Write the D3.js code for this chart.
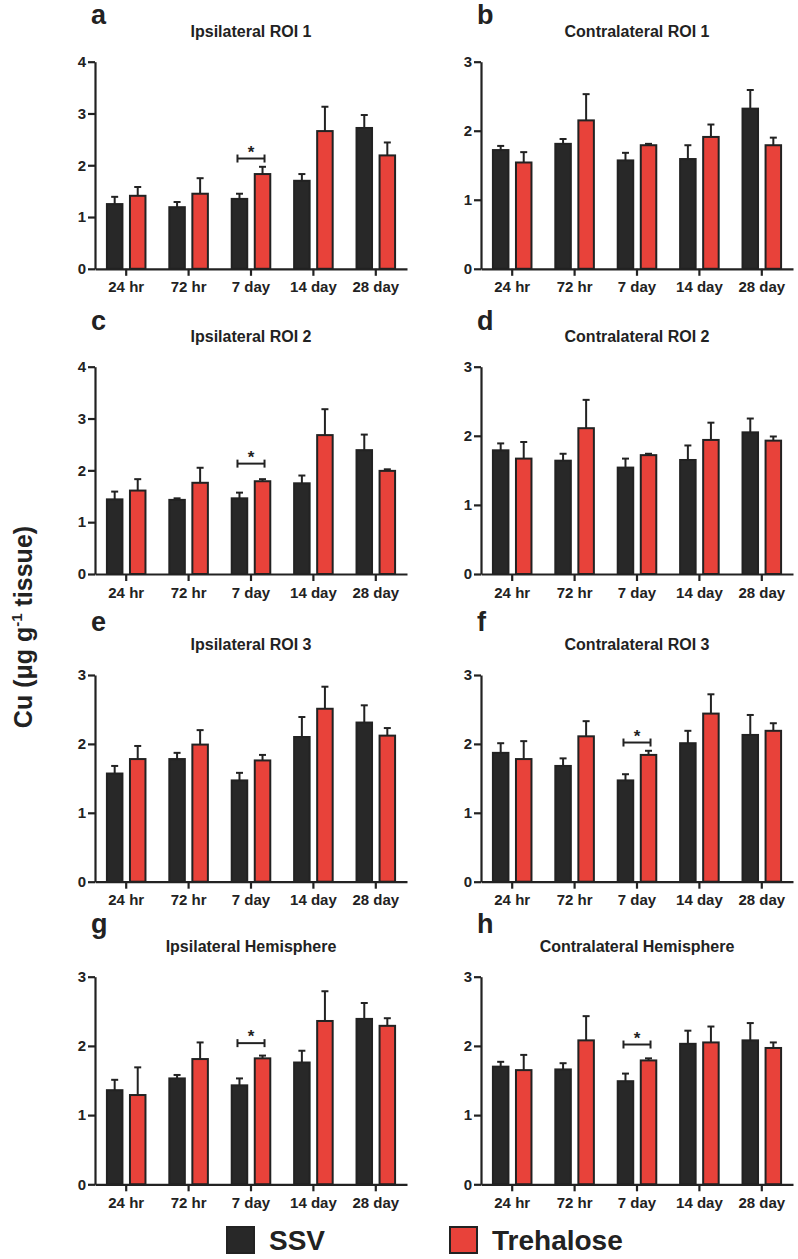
<!DOCTYPE html>
<html>
<head>
<meta charset="utf-8">
<script src="https://cdn.jsdelivr.net/npm/d3@7"></script>
<style>
  html, body { margin: 0; padding: 0; background: #fff; }
  svg { display: block; font-family: "Liberation Sans", Arial, sans-serif; }
</style>
</head>
<body>
<svg id="chart" width="798" height="1259"></svg>
<script>
// ---------------- DATA ----------------
const categories = ["24 hr", "72 hr", "7 day", "14 day", "28 day"];
const seriesNames = ["SSV", "Trehalose"];
const panelLetters = ["a", "b", "c", "d", "e", "f", "g", "h"];
const panelTitles = [
  "Ipsilateral ROI 1", "Contralateral ROI 1",
  "Ipsilateral ROI 2", "Contralateral ROI 2",
  "Ipsilateral ROI 3", "Contralateral ROI 3",
  "Ipsilateral Hemisphere", "Contralateral Hemisphere"
];
const yMaxes = [4, 3, 4, 3, 3, 3, 3, 3];

// mean values (SSV)
const ssvMean = [
  [1.25, 1.19, 1.35, 1.70, 2.72],
  [1.72, 1.81, 1.57, 1.59, 2.32],
  [1.44, 1.43, 1.46, 1.75, 2.39],
  [1.79, 1.64, 1.54, 1.65, 2.05],
  [1.57, 1.78, 1.47, 2.10, 2.31],
  [1.87, 1.68, 1.47, 2.01, 2.13],
  [1.36, 1.53, 1.43, 1.76, 2.39],
  [1.70, 1.66, 1.49, 2.03, 2.08]
];
// top of error bar (SSV)
const ssvErrTop = [
  [1.39, 1.29, 1.45, 1.83, 2.97],
  [1.78, 1.88, 1.68, 1.79, 2.59],
  [1.59, 1.46, 1.57, 1.90, 2.69],
  [1.89, 1.74, 1.67, 1.86, 2.25],
  [1.68, 1.87, 1.58, 2.39, 2.56],
  [2.01, 1.79, 1.56, 2.19, 2.42],
  [1.51, 1.58, 1.53, 1.93, 2.62],
  [1.77, 1.75, 1.60, 2.22, 2.33]
];
// mean values (Trehalose)
const treMean = [
  [1.41, 1.45, 1.83, 2.66, 2.19],
  [1.54, 2.15, 1.79, 1.91, 1.79],
  [1.61, 1.76, 1.79, 2.68, 1.99],
  [1.67, 2.11, 1.72, 1.94, 1.93],
  [1.78, 1.99, 1.76, 2.51, 2.12],
  [1.78, 2.11, 1.84, 2.44, 2.19],
  [1.29, 1.81, 1.82, 2.36, 2.29],
  [1.65, 2.08, 1.79, 2.05, 1.97]
];
// top of error bar (Trehalose)
const treErrTop = [
  [1.58, 1.75, 1.97, 3.13, 2.44],
  [1.69, 2.53, 1.81, 2.09, 1.90],
  [1.83, 2.05, 1.83, 3.18, 2.02],
  [1.91, 2.52, 1.74, 2.19, 1.99],
  [1.97, 2.20, 1.84, 2.83, 2.23],
  [2.04, 2.33, 1.90, 2.72, 2.30],
  [1.69, 2.05, 1.86, 2.79, 2.40],
  [1.87, 2.43, 1.82, 2.28, 2.05]
];
// significance brackets: panel index, category, bracket level
const sigPanels = [0, 2, 5, 6, 7];
const sigCategory = ["7 day", "7 day", "7 day", "7 day", "7 day"];
const sigLevel = [2.13, 2.13, 2.02, 2.04, 2.02];

const yLabel = "Cu (\u03BCg g";
const yLabelSup = "-1";
const yLabelEnd = " tissue)";

// ---------------- LAYOUT ----------------
const colX = [95, 481];
const plotW = 312;
const rowTop = [61.7, 366.7, 675, 976.7];
const rowZero = [268.8, 574, 881.7, 1184.3];
const letterDy = [37.5, 36.7, 44, 43.7];

const INK = "#222222";
const colors = { SSV: "#282828", Trehalose: "#e8423a" };
const FONT = "'Liberation Sans', Arial, sans-serif";

const svg = d3.select("#chart");

panelLetters.forEach((letter, i) => {
  const col = i % 2, row = Math.floor(i / 2);
  const x0 = colX[col], x1 = x0 + plotW;
  const yTop = rowTop[row], y0 = rowZero[row];

  const x = d3.scaleBand().domain(categories).range([x0, x1])
    .paddingInner(0.35).paddingOuter(0.175);
  const xs = d3.scaleBand().domain(seriesNames).range([0, x.bandwidth()])
    .paddingInner(0.24);
  const y = d3.scaleLinear().domain([0, yMaxes[i]]).range([y0, yTop]);

  const g = svg.append("g");

  // letter
  g.append("text")
    .attr("x", x0 - 4)
    .attr("y", yTop - letterDy[row])
    .attr("font-size", 27).attr("font-weight", "bold").attr("fill", INK)
    .attr("font-family", FONT)
    .text(letter);

  // title
  g.append("text")
    .attr("x", (x0 + x1) / 2)
    .attr("y", yTop - 25)
    .attr("text-anchor", "middle")
    .attr("font-size", 16).attr("font-weight", "bold").attr("fill", INK)
    .attr("font-family", FONT)
    .text(panelTitles[i]);

  // bars
  const data = [];
  categories.forEach((c, k) => {
    data.push({ c, s: "SSV", v: ssvMean[i][k], e: ssvErrTop[i][k] });
    data.push({ c, s: "Trehalose", v: treMean[i][k], e: treErrTop[i][k] });
  });

  // error bars first (behind)
  const eb = g.append("g").attr("stroke", INK).attr("stroke-width", 2);
  data.forEach(d => {
    const cx = x(d.c) + xs(d.s) + xs.bandwidth() / 2;
    eb.append("line").attr("x1", cx).attr("x2", cx)
      .attr("y1", y(d.v)).attr("y2", y(d.e));
    eb.append("line").attr("x1", cx - 3.5).attr("x2", cx + 3.5)
      .attr("y1", y(d.e)).attr("y2", y(d.e));
  });

  g.append("g").selectAll("rect").data(data).join("rect")
    .attr("x", d => x(d.c) + xs(d.s) + 1)
    .attr("width", xs.bandwidth() - 2)
    .attr("y", d => y(d.v))
    .attr("height", d => y0 - y(d.v))
    .attr("fill", d => colors[d.s])
    .attr("stroke", INK).attr("stroke-width", 2);

  // axes
  const yAxis = d3.axisLeft(y).ticks(yMaxes[i]).tickFormat(d3.format("d"))
    .tickSize(7).tickSizeOuter(0).tickPadding(2);
  const gy = g.append("g").attr("transform", `translate(${x0},0)`).call(yAxis);
  const xAxis = d3.axisBottom(x).tickSize(7).tickSizeOuter(0).tickPadding(6);
  const gx = g.append("g").attr("transform", `translate(0,${y0})`).call(xAxis);

  [gy, gx].forEach(a => {
    a.attr("font-size", null).attr("font-family", null);
    a.select(".domain").attr("stroke", INK).attr("stroke-width", 2.2);
    a.selectAll(".tick line").attr("stroke", INK).attr("stroke-width", 2.2);
    a.selectAll(".tick text").attr("fill", INK)
      .attr("font-size", 15).attr("font-weight", "bold").attr("font-family", FONT);
  });

  // significance
  const si = sigPanels.indexOf(i);
  if (si >= 0) {
    const c = sigCategory[si];
    const xa = x(c) + xs("SSV") + xs.bandwidth() / 2 - 2;
    const xb = x(c) + xs("Trehalose") + xs.bandwidth() / 2 + 2;
    const yb = y(sigLevel[si]);
    const sg = g.append("g").attr("stroke", INK).attr("stroke-width", 2);
    sg.append("line").attr("x1", xa).attr("x2", xb).attr("y1", yb).attr("y2", yb);
    sg.append("line").attr("x1", xa).attr("x2", xa).attr("y1", yb - 4).attr("y2", yb + 4);
    sg.append("line").attr("x1", xb).attr("x2", xb).attr("y1", yb - 4).attr("y2", yb + 4);
    g.append("text").attr("x", (xa + xb) / 2).attr("y", yb - 1)
      .attr("text-anchor", "middle").attr("font-size", 17).attr("font-weight", "bold")
      .attr("fill", INK).attr("font-family", FONT).text("*");
  }
});

// y-axis label
const yl = svg.append("text")
  .attr("transform", "translate(32,627) rotate(-90)")
  .attr("text-anchor", "middle")
  .attr("font-size", 25).attr("font-weight", "bold").attr("fill", INK)
  .attr("font-family", FONT);
yl.append("tspan").text(yLabel);
yl.append("tspan").attr("font-size", 15).attr("dy", -10).text(yLabelSup);
yl.append("tspan").attr("dy", 10).text(yLabelEnd);

// legend
const legendX = [227, 450];
const legendG = svg.append("g");
seriesNames.forEach((s, k) => {
  legendG.append("rect")
    .attr("x", legendX[k]).attr("y", 1227)
    .attr("width", 27).attr("height", 26)
    .attr("fill", colors[s]).attr("stroke", INK).attr("stroke-width", 2);
  legendG.append("text")
    .attr("x", legendX[k] + 42).attr("y", 1250)
    .attr("font-size", 28).attr("font-weight", "bold").attr("fill", INK)
    .attr("font-family", FONT)
    .text(s);
});
</script>
</body>
</html>
